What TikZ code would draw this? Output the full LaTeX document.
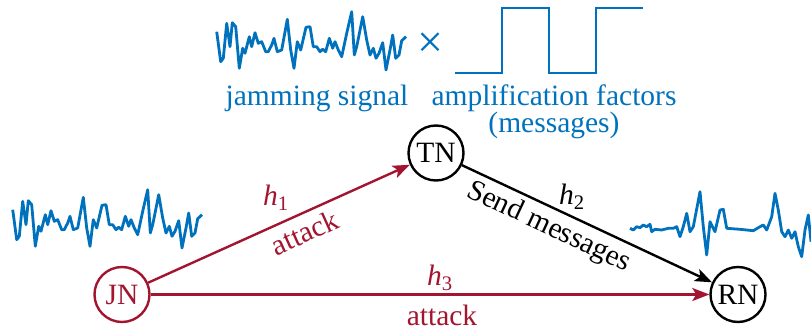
\documentclass[tikz,border=0pt]{standalone}
\usepackage{fontspec}
\setmainfont{Liberation Serif}
\usetikzlibrary{arrows.meta}
\definecolor{nblue}{HTML}{0072BD}
\definecolor{nred}{HTML}{A2142F}
\begin{document}
\begin{tikzpicture}[x=1pt,y=-1pt,
  every node/.style={font=\fontsize{29.5}{35}\selectfont, inner sep=0pt},
  agent/.style={circle, draw, line width=2.4pt, minimum size=55pt, inner sep=0pt},
  link/.style={line width=2.4pt, -{Stealth[length=17pt,width=13pt,inset=4pt]}},
  sig/.style={nblue, line width=2.8pt, line join=round}]
\useasboundingbox (0,0) rectangle (811,331);
% top noise
\draw[sig] plot[sharp plot] coordinates {(216.7,31.7) (220.7,61.7) (223.3,58.3) (226.7,23.3) (230,46.7) (232.3,22.7) (235.7,26.7) (239.3,68.3) (242.7,48.3) (245,53.3) (249.3,36.7) (251.7,46.7) (255,32.7) (258.3,43.3) (261.7,41.7) (265.7,51.7) (268.3,51.7) (271.7,45) (274,38.3) (277.3,51.7) (281.7,50) (287.3,19.3) (290.7,50) (294,68.3) (297.3,41.7) (300.7,50) (306,27.3) (310,26.7) (313.3,46.7) (316.7,46.7) (320,51.7) (322.7,49.3) (325.7,51.7) (329.3,38.3) (332.7,48.3) (335,41.7) (338.3,50) (341.7,56.7) (346.7,33.3) (351.7,11.7) (354.3,55) (356.7,46.7) (362.7,16.7) (366.7,40) (370,55) (373.3,48.3) (376,58.3) (379,53.3) (382.7,42.7) (386,70) (390,50) (392.7,35) (395.7,58.3) (399,55) (401.7,40.7) (406,36.7)};
% left noise (same signal)
\draw[sig, shift={(-204,178)}] plot[sharp plot] coordinates {(216.7,31.7) (220.7,61.7) (223.3,58.3) (226.7,23.3) (230,46.7) (232.3,22.7) (235.7,26.7) (239.3,68.3) (242.7,48.3) (245,53.3) (249.3,36.7) (251.7,46.7) (255,32.7) (258.3,43.3) (261.7,41.7) (265.7,51.7) (268.3,51.7) (271.7,45) (274,38.3) (277.3,51.7) (281.7,50) (287.3,19.3) (290.7,50) (294,68.3) (297.3,41.7) (300.7,50) (306,27.3) (310,26.7) (313.3,46.7) (316.7,46.7) (320,51.7) (322.7,49.3) (325.7,51.7) (329.3,38.3) (332.7,48.3) (335,41.7) (338.3,50) (341.7,56.7) (346.7,33.3) (351.7,11.7) (354.3,55) (356.7,46.7) (362.7,16.7) (366.7,40) (370,55) (373.3,48.3) (376,58.3) (379,53.3) (382.7,42.7) (386,70) (390,50) (392.7,35) (395.7,58.3) (399,55) (401.7,40.7) (406,36.7)};
% right noise
\draw[sig] plot[sharp plot] coordinates {(630,228.3) (633.3,230) (636.7,226.7) (640,227.7) (643.3,225) (646.7,226.7) (650,224.3) (651.7,231.7) (655,229.3) (661.7,230) (668.3,228.3) (673.3,228.3) (676.7,226.7) (680,236.7) (683.3,226.7) (686.7,213.3) (690,231.7) (693.3,226.7) (700,191.7) (703.3,226.7) (706.7,255) (710,221.7) (715,231.7) (720,210) (723.3,209.3) (726.7,228.3) (740,229.3) (753.3,230.7) (760,226.7) (763.3,225) (766.7,230) (771.7,216.7) (775,193.3) (778.3,210) (781.7,231.7) (785,236.7) (788.3,230) (791.7,238.3) (795,231.7) (798.3,246.7) (801.7,256.7) (805,230) (808.3,215) (811,241.7)};
% square wave
\draw[sig, line join=miter] (455,73) -- (502,73) -- (502,8) -- (549,8) -- (549,73) -- (596,73) -- (596,8) -- (643,8);
\node[nblue, font=\fontsize{46}{46}\selectfont] (times) at (430,45.5) {×};
\node[nblue, anchor=base] (jam) at (317,106) {jamming signal};
\node[nblue, anchor=base] (amp) at (554,106) {amplification factors};
\node[nblue, anchor=base] (msg) at (554,133) {(messages)};
% agents
\node[agent, nred] (JN) at (122,294.5) {JN};
\node[agent] (TN) at (436,153) {TN};
\node[agent] (RN) at (738,294.5) {RN};
% links
\draw[link, nred] (JN) -- node[sloped, below=7pt, pos=0.57] (att1) {attack} (TN);
\draw[link, nred] (JN) -- (RN);
\draw[link] (TN) -- node[sloped, below=5pt, pos=0.38] (send) {Send messages} (RN);
\node[nred] (h1) at (276,198) {\textit{h}\textsubscript{1}};
\node[nred] (h3) at (440,278) {\textit{h}\textsubscript{3}};
\node (h2) at (572,197) {\textit{h}\textsubscript{2}};
\node[nred, anchor=base] (att3) at (442,325) {attack};
\end{tikzpicture}
\end{document}
